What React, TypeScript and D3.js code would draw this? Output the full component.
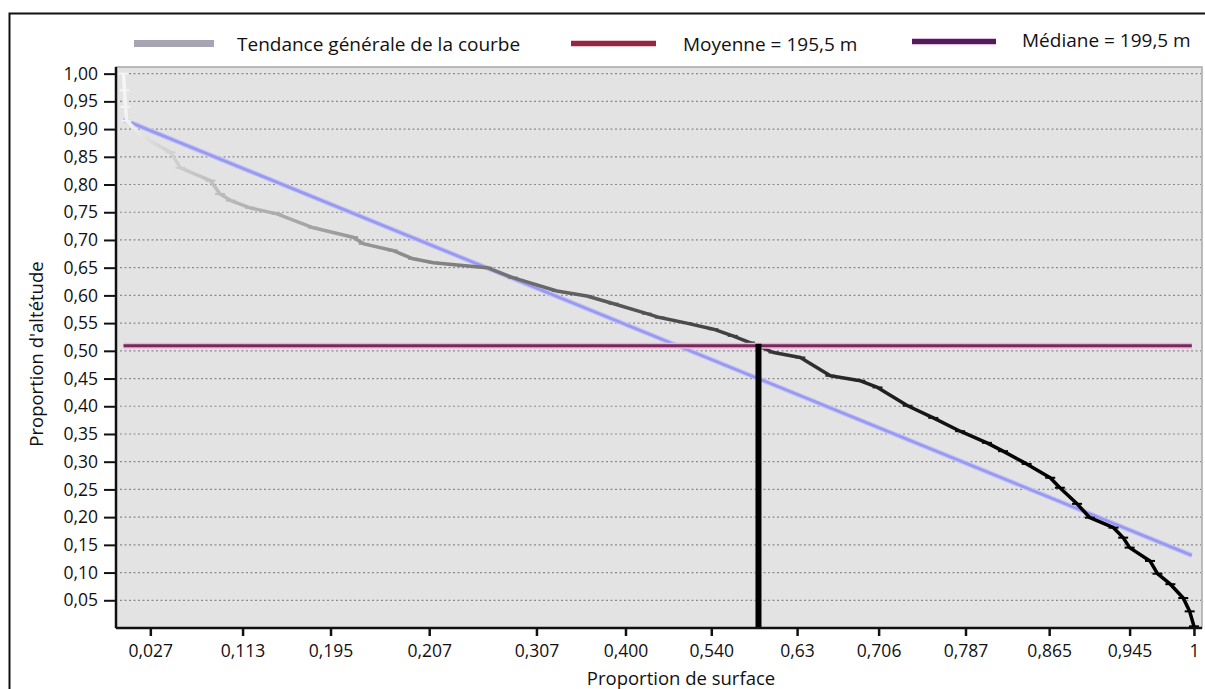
import React, { useEffect, useRef } from "react";
import * as d3 from "d3";

// courbe hypsométrique
const surface = [
  0.002, 0.003, 0.004, 0.005, 0.021, 0.046, 0.055, 0.083, 0.092, 0.102,
  0.12, 0.145, 0.179, 0.216, 0.226, 0.253, 0.272, 0.291, 0.328, 0.341,
  0.365, 0.406, 0.434, 0.459, 0.49, 0.502, 0.527, 0.552, 0.57, 0.586,
  0.608, 0.633, 0.661, 0.689, 0.705, 0.733, 0.757, 0.782, 0.807, 0.822,
  0.844, 0.866, 0.875, 0.891, 0.903, 0.925, 0.934, 0.94, 0.959, 0.966,
  0.978, 0.99, 0.996, 1.0,
];
const altitude = [
  1.0, 0.97, 0.94, 0.915, 0.885, 0.858, 0.83, 0.807, 0.783, 0.771,
  0.758, 0.747, 0.722, 0.705, 0.693, 0.681, 0.666, 0.659, 0.652, 0.65,
  0.632, 0.608, 0.599, 0.585, 0.567, 0.56, 0.55, 0.539, 0.527, 0.515,
  0.497, 0.488, 0.455, 0.446, 0.434, 0.401, 0.379, 0.355, 0.334, 0.319,
  0.296, 0.271, 0.253, 0.224, 0.199, 0.181, 0.163, 0.145, 0.121, 0.098,
  0.079, 0.054, 0.03, 0.003,
];

const trendX = [0.002, 0.998];
const trendY = [0.917, 0.131];

const medianAlt = 0.509;
const medianX = [0.002, 0.998];
const medianSurface = 0.594;

const xTickValues = [0.027, 0.113, 0.195, 0.287, 0.387, 0.47, 0.55, 0.63, 0.706, 0.787, 0.865, 0.94, 1];
const xTickLabels = ["0,027", "0,113", "0,195", "0,207", "0,307", "0,400", "0,540", "0,63", "0,706", "0,787", "0,865", "0,945", "1"];
const yTickValues = [0.05, 0.1, 0.15, 0.2, 0.25, 0.3, 0.35, 0.4, 0.45, 0.5, 0.55, 0.6, 0.65, 0.7, 0.75, 0.8, 0.85, 0.9, 0.95, 1.0];

const legendLabels = ["Tendance générale de la courbe", "Moyenne = 195,5 m", "Médiane = 199,5 m"];

const W = 1205;
const H = 689;
const font = "'Open Sans', sans-serif";

const App = () => {
  const svgRef = useRef<SVGSVGElement>(null);

  useEffect(() => {
    const svg = d3.select(svgRef.current);
    svg.selectAll("*").remove();

    const left = 116, right = 1202, top = 67, bottom = 628;
    const x = d3.scaleLinear().domain([-0.005, 1.0075]).range([left, right]);
    const y = d3.scaleLinear().domain([0, 1.012]).range([bottom, top]);
    const fr = d3.formatLocale({ decimal: ",", thousands: " ", grouping: [3], currency: ["", ""] }).format(".2f");

    // cadre extérieur
    svg.append("path")
      .attr("d", `M9.5,${H + 5} V13.5 H${W + 5}`)
      .attr("fill", "none").attr("stroke", "#111").attr("stroke-width", 2);

    // fond du graphique
    svg.append("rect")
      .attr("x", left).attr("y", top)
      .attr("width", right - left).attr("height", bottom - top)
      .attr("fill", "#e3e3e3").attr("stroke", "#a8a8a8").attr("stroke-width", 1.5);

    // grille pointillée
    svg.append("g").selectAll("line").data(yTickValues).join("line")
      .attr("x1", left + 4).attr("x2", right - 1)
      .attr("y1", (d) => y(d)).attr("y2", (d) => y(d))
      .attr("stroke", "#8a8a8a").attr("stroke-width", 1.2).attr("stroke-dasharray", "2,2.5");

    // dégradé de la courbe
    const grad = svg.append("defs").append("linearGradient")
      .attr("id", "courbe").attr("gradientUnits", "userSpaceOnUse")
      .attr("x1", x(0)).attr("x2", x(1)).attr("y1", 0).attr("y2", 0);
    [[0, "#f8f8f8"], [0.03, "#d8d8d8"], [0.1, "#b8b8b8"], [0.25, "#909090"], [0.4, "#666"], [0.55, "#444"], [0.7, "#222"], [0.85, "#000"]]
      .forEach(([o, c]) => grad.append("stop").attr("offset", o as number).attr("stop-color", c as string));

    const pts = surface.map((s, i) => [s, altitude[i]] as [number, number]);
    const line = d3.line<[number, number]>().x((d) => x(d[0])).y((d) => y(d[1]));

    // tendance générale
    const trend = trendX.map((v, i) => [v, trendY[i]] as [number, number]);
    svg.append("path").attr("d", line(trend))
      .attr("fill", "none").attr("stroke", "#c6c6f6").attr("stroke-width", 5);
    svg.append("path").attr("d", line(trend))
      .attr("fill", "none").attr("stroke", "#9999f0").attr("stroke-width", 2.8);

    // courbe
    svg.append("path")
      .attr("d", line(pts))
      .attr("fill", "none").attr("stroke", "url(#courbe)").attr("stroke-width", 3.5)
      .attr("stroke-linejoin", "round");
    svg.append("g").selectAll("line").data(pts).join("line")
      .attr("x1", (d) => x(d[0]) - 5).attr("x2", (d) => x(d[0]) + 5)
      .attr("y1", (d) => y(d[1])).attr("y2", (d) => y(d[1]))
      .attr("stroke", "url(#courbe)").attr("stroke-width", 2);

    // médiane
    const med = medianX.map((v) => [v, medianAlt] as [number, number]);
    svg.append("path").attr("d", line(med))
      .attr("fill", "none").attr("stroke", "#efb6dc").attr("stroke-width", 6);
    svg.append("path").attr("d", line(med))
      .attr("fill", "none").attr("stroke", "#742a5c").attr("stroke-width", 3);

    svg.append("line")
      .attr("x1", x(medianSurface)).attr("x2", x(medianSurface))
      .attr("y1", y(medianAlt) - 2).attr("y2", y(0))
      .attr("stroke", "#000").attr("stroke-width", 6);

    // axes
    const yAxis = svg.append("g")
      .attr("transform", `translate(${left},0)`)
      .call(d3.axisLeft(y).tickValues(yTickValues).tickFormat((d) => fr(d as number)).tickSize(12).tickPadding(6));
    yAxis.select(".domain").attr("stroke", "#111").attr("stroke-width", 2.5)
      .attr("d", `M0,${top} V${bottom}`);
    yAxis.selectAll(".tick line").attr("stroke", "#111").attr("stroke-width", 2);
    yAxis.selectAll(".tick text").attr("font-family", font).attr("font-size", 17.5).attr("fill", "#111");

    const xAxis = svg.append("g")
      .attr("transform", `translate(0,${bottom})`)
      .call(d3.axisBottom(x).tickValues(xTickValues).tickFormat((d, i) => xTickLabels[i]).tickSize(8).tickPadding(9));
    xAxis.select(".domain").attr("stroke", "#111").attr("stroke-width", 2.5)
      .attr("d", `M${left},0 H${right}`);
    xAxis.selectAll(".tick line").attr("stroke", "#111").attr("stroke-width", 2.5);
    xAxis.selectAll(".tick text").attr("font-family", font).attr("font-size", 17.5).attr("fill", "#111");

    // titres
    svg.append("text")
      .attr("x", 681).attr("y", 685).attr("text-anchor", "middle")
      .attr("font-family", font).attr("font-size", 18.5).attr("fill", "#111")
      .text("Proportion de surface");
    svg.append("text")
      .attr("transform", "translate(43,354) rotate(-90)").attr("text-anchor", "middle")
      .attr("font-family", font).attr("font-size", 18.5).attr("fill", "#111")
      .text("Proportion d'altétude");

    // légende
    const leg = svg.append("g");
    leg.append("rect").attr("x", 134).attr("y", 40).attr("width", 80).attr("height", 7).attr("fill", "#a5a5b3");
    leg.append("rect").attr("x", 571).attr("y", 40).attr("width", 85).attr("height", 7).attr("fill", "#f4c2d0");
    leg.append("rect").attr("x", 571).attr("y", 41).attr("width", 85).attr("height", 5).attr("fill", "#8c2b42");
    leg.append("rect").attr("x", 912).attr("y", 38).attr("width", 84).attr("height", 7).attr("fill", "#e8b8ee");
    leg.append("rect").attr("x", 912).attr("y", 39).attr("width", 84).attr("height", 5).attr("fill", "#4a2150");
    leg.selectAll("text").data(legendLabels).join("text")
      .attr("x", (d, i) => [237, 683, 1022][i])
      .attr("y", (d, i) => [51, 51, 47][i])
      .attr("font-family", font).attr("font-size", 19).attr("fill", "#111")
      .text((d) => d);
  }, []);

  return (
    <svg
      ref={svgRef}
      width={W}
      height={H}
      style={{ position: "absolute", left: 0, top: 0, background: "#fff", display: "block" }}
    ></svg>
  );
};

export default App;
